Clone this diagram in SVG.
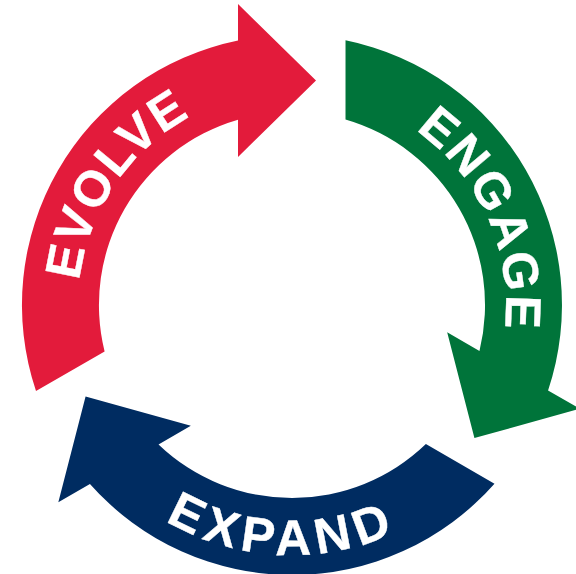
<svg xmlns="http://www.w3.org/2000/svg" xmlns:xlink="http://www.w3.org/1999/xlink" width="576" height="574" viewBox="0 0 576 574">
  <style>
    .lbl { font-family: "Liberation Sans", Arial, sans-serif; font-weight: bold; font-size: 50px; fill: #ffffff; stroke: #ffffff; stroke-width: 0.4; stroke-linejoin: round; }
    .red { fill: #E31B3B; }
    .green { fill: #00743A; }
    .navy { fill: #002C61; }
  </style>
  <defs>
    <path id="arrow" d="M 36 391 A 270 270 0 0 1 238 40.5 L 238 4 L 316 80.5 L 238 157 L 238 119.7 A 193 193 0 0 0 104.6 351.4 Z"/>
    <path id="pEvolve" d="M 86.1 363.3 A 214 214 0 0 1 270.4 92.1"/>
    <path id="pEngage" d="M 351 99.3 A 214 214 0 0 1 484.3 398.8"/>
    <path id="pExpand" d="M 93.7 457.2 A 250 250 0 0 0 476.3 473.9"/>
  </defs>
  <rect width="576" height="574" fill="#ffffff"/>
  <g id="evolve">
    <use xlink:href="#arrow" class="red"/>
    <text class="lbl" letter-spacing="1.3"><textPath xlink:href="#pEvolve" startOffset="50%" text-anchor="middle">EVOLVE</textPath></text>
  </g>
  <g id="engage">
    <use xlink:href="#arrow" class="green" transform="rotate(120 292 305)"/>
    <text class="lbl" letter-spacing="2.2"><textPath xlink:href="#pEngage" startOffset="50%" text-anchor="middle">ENGAGE</textPath></text>
  </g>
  <g id="expand">
    <use xlink:href="#arrow" class="navy" transform="rotate(240 292 305)"/>
    <text class="lbl" letter-spacing="6.5"><textPath xlink:href="#pExpand" startOffset="50%" text-anchor="middle">EXPAND</textPath></text>
  </g>
  <g id="connectors"/>
</svg>
